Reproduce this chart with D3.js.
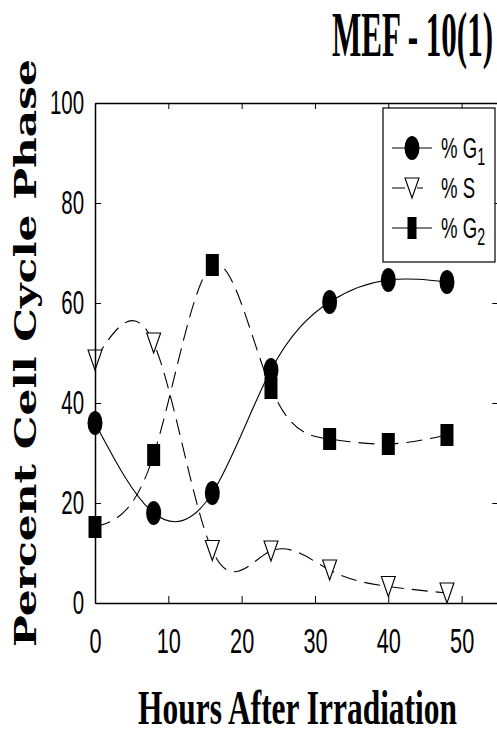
<!DOCTYPE html>
<html>
<head>
<meta charset="utf-8">
<script src="https://cdn.jsdelivr.net/npm/d3@7"></script>
<style>
  html, body { margin: 0; padding: 0; background: #fff; }
  svg { display: block; }
</style>
</head>
<body>
<svg id="chart" width="497" height="734"></svg>
<script>
// ---- data ----
const hours = [0, 8, 16, 24, 32, 40, 48];
const g1Values = [36, 18, 22, 46.6, 60.2, 64.6, 64.2];
const sValues = [48.6, 52, 10.5, 10.4, 6.6, 3.3, 2];
const g2Values = [15.2, 29.6, 67.6, 43, 32.8, 31.8, 33.6];
const xTickValues = [0, 10, 20, 30, 40, 50];
const yTickValues = [0, 20, 40, 60, 80, 100];
const seriesNames = ["% G", "% S", "% G"];
const seriesSubs = ["1", "", "2"];
const titleText = "MEF - 10(1)";
const xLabel = "Hours After Irradiation";
const yLabel = "Percent Cell Cycle Phase";

// ---- layout ----
const svg = d3.select("#chart");
const L = 95, T = 103, B = 603;
const x = d3.scaleLinear().domain([0, 55]).range([L, 498.3]);
const y = d3.scaleLinear().domain([0, 100]).range([B, T]);
const SX = 0.62; // horizontal condensing of the figure's text
const sans = "'Liberation Sans', Arial, sans-serif";
const serif = "'Liberation Serif', 'Times New Roman', serif";

svg.append("rect").attr("width", 497).attr("height", 734).attr("fill", "#fff");

// fit-text helper: draws text in a group scaled horizontally to a target width
function fitText(parent, txt, cx, cy, target, opts) {
  const g = parent.append("g");
  const t = g.append("text").text(txt)
    .attr("font-family", opts.family).attr("font-size", opts.size)
    .attr("font-weight", opts.weight || "normal")
    .attr("text-anchor", opts.anchor || "middle").attr("fill", "#000");
  const w = t.node().getComputedTextLength();
  const s = target / w;
  g.attr("transform", `translate(${cx},${cy}) rotate(${opts.rotate || 0}) scale(${s},1)`);
  return g;
}

// ---- lines ----
const lineGen = (vals) => d3.line()
  .x((d, i) => x(hours[i])).y(d => y(d))
  .curve(d3.curveNatural)(vals);

const plot = svg.append("g");
plot.append("path").attr("d", lineGen(g1Values))
  .attr("fill", "none").attr("stroke", "#000").attr("stroke-width", 1.1);
plot.append("path").attr("d", lineGen(sValues))
  .attr("fill", "none").attr("stroke", "#000").attr("stroke-width", 1.1)
  .attr("stroke-dasharray", "16,8");
plot.append("path").attr("d", lineGen(g2Values))
  .attr("fill", "none").attr("stroke", "#000").attr("stroke-width", 1.1)
  .attr("stroke-dasharray", "16,8");

// ---- markers ----
function circleMark(sel) {
  sel.append("ellipse").attr("rx", 7.5).attr("ry", 12).attr("fill", "#000");
}
function triMark(sel) {
  sel.append("path").attr("d", "M-7,-10 L7,-10 L0,10 Z")
    .attr("fill", "#fff").attr("stroke", "#000").attr("stroke-width", 1.1);
}
function squareMark(sel, w) {
  sel.append("rect").attr("x", -(w || 13) / 2).attr("y", -11)
    .attr("width", w || 13).attr("height", 22).attr("fill", "#000");
}

plot.selectAll(".s").data(sValues).join("g")
  .attr("transform", (d, i) => `translate(${x(hours[i])},${y(d)})`)
  .call(triMark);
plot.selectAll(".g2").data(g2Values).join("g")
  .attr("transform", (d, i) => `translate(${x(hours[i])},${y(d)})`)
  .call(s => squareMark(s));
plot.selectAll(".g1").data(g1Values).join("g")
  .attr("transform", (d, i) => `translate(${x(hours[i])},${y(d)})`)
  .call(circleMark);

// ---- axes ----
const axB = svg.append("g").attr("transform", `translate(0,${B})`)
  .call(d3.axisBottom(x).tickValues(xTickValues).tickSizeInner(-7).tickSizeOuter(0).tickPadding(25));
const axL = svg.append("g").attr("transform", `translate(${L},0)`)
  .call(d3.axisLeft(y).tickValues(yTickValues).tickSizeInner(-6).tickSizeOuter(0).tickPadding(11));
const axT = svg.append("g").attr("transform", `translate(0,${T})`)
  .call(d3.axisTop(x).tickValues(xTickValues).tickSizeInner(-6).tickSizeOuter(0).tickFormat(""));
const axR = svg.append("g").attr("transform", `translate(${x(55)},0)`)
  .call(d3.axisRight(y).tickValues(yTickValues).tickSizeInner(-6).tickSizeOuter(0).tickFormat(""));

[axB, axL, axT, axR].forEach(a => {
  a.select(".domain").attr("stroke", "#000").attr("stroke-width", 1.5);
  a.selectAll(".tick line").attr("stroke", "#000").attr("stroke-width", 1);
  a.selectAll("text").attr("font-family", sans).attr("fill", "#000");
});
axL.selectAll(".tick text").attr("font-size", 33).each(function () {
  const t = d3.select(this);
  t.attr("x", +t.attr("x") / SX).attr("transform", `scale(${SX},1)`);
});
axB.selectAll(".tick text").attr("font-size", 35).attr("transform", `scale(${SX},1)`);

// ---- legend ----
const leg = svg.append("g");
leg.append("rect").attr("x", 383).attr("y", 108).attr("width", 112).attr("height", 154)
  .attr("fill", "#fff").attr("stroke", "#000").attr("stroke-width", 1.2);
const legY = [148, 188, 228];
const legDash = [null, "13,12,6,40", null];
const legMark = [circleMark, triMark, s => squareMark(s, 9)];
legY.forEach((ly, i) => {
  leg.append("line").attr("x1", 392).attr("x2", 432).attr("y1", ly).attr("y2", ly)
    .attr("stroke", "#000").attr("stroke-width", 1.1)
    .attr("stroke-dasharray", legDash[i]);
  const m = leg.append("g").attr("transform", `translate(412,${ly})`);
  legMark[i](m);
  const tg = leg.append("g").attr("transform", `translate(441,${ly + 10}) scale(${SX},1)`);
  const t = tg.append("text").attr("font-family", sans).attr("font-size", 30).attr("fill", "#000")
    .text(seriesNames[i]);
  if (seriesSubs[i]) {
    t.append("tspan").attr("font-size", 23).attr("dy", 7).text(seriesSubs[i]);
  }
});

// ---- titles ----
fitText(svg, titleText, 493, 56, 161, { family: serif, size: 64, weight: "bold", anchor: "end" });
fitText(svg, xLabel, 297.5, 723.5, 319, { family: serif, size: 48, weight: "bold" });
fitText(svg, yLabel, 36, 353, 588, { family: "'DejaVu Serif', serif", size: 30, weight: "bold", rotate: -90 });
</script>
</body>
</html>
